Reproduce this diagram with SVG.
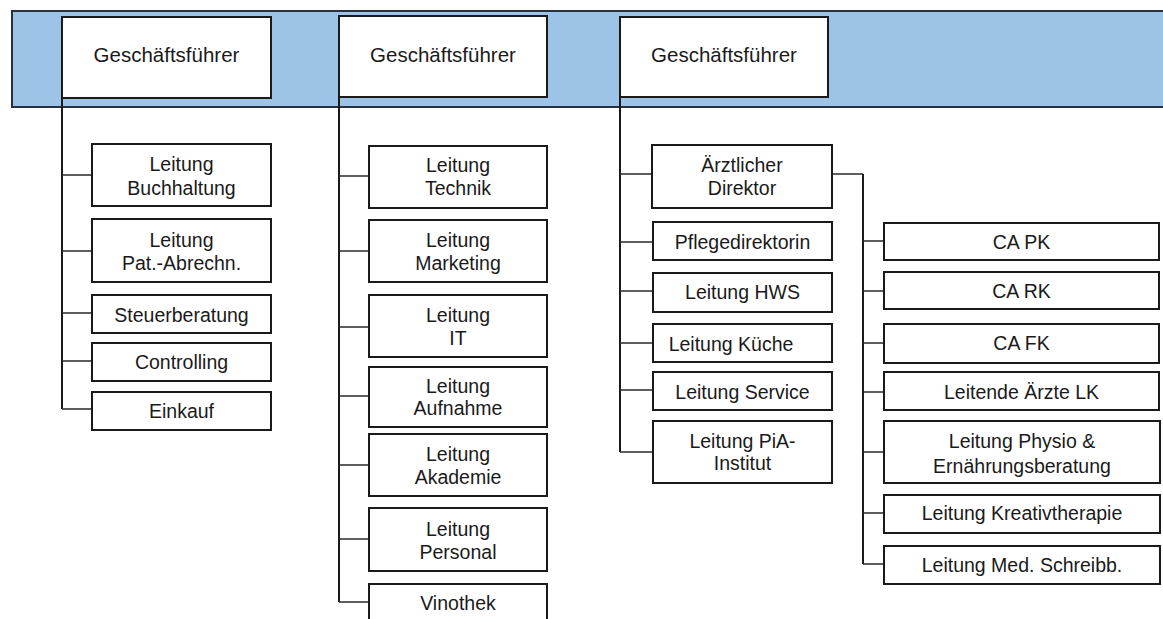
<svg xmlns="http://www.w3.org/2000/svg" width="1163" height="619" viewBox="0 0 1163 619">
<style>
.box{fill:#fff;stroke:#1a1a1a;stroke-width:2}
.t{font-family:"Liberation Sans",Arial,sans-serif;font-size:19.5px;fill:#1a1a1a;text-anchor:middle}
.h{font-size:20.5px}
.c{fill:none;stroke:#2a2a2a;stroke-width:1.5}
.v{fill:none;stroke:#1a1a1a;stroke-width:2}
</style>
<rect width="1163" height="619" fill="#fff"/>
<rect id="band" x="12" y="11" width="1152" height="96" fill="#9dc3e6" stroke="#26323f" stroke-width="2"/>
<g id="connectors">
<path class="v" d="M62 98V409M339 97V602M620 97V452M863 174V564"/>
<path class="c" d="M62 175H92M62 251H92M62 313H92M62 361H92M62 409H92"/>
<path class="c" d="M339 176H369M339 251H369M339 327H369M339 396H369M339 465H369M339 539H369M339 602H369"/>
<path class="c" d="M620 174H652M620 242H652M620 291H652M620 343H652M620 390H652M620 452H652M832 174H863"/>
<path class="c" d="M863 241H884M863 291H884M863 343H884M863 392H884M863 452H884M863 513H884M863 564H884"/>
</g>
<g id="gf1"><rect class="box" x="62" y="17" width="209" height="81"/><text class="t h" x="166.5" y="61.5">Geschäftsführer</text></g>
<g id="gf2"><rect class="box" x="339" y="16" width="208" height="81"/><text class="t h" x="443" y="61.5">Geschäftsführer</text></g>
<g id="gf3"><rect class="box" x="620" y="17" width="208" height="80"/><text class="t h" x="724" y="61.5">Geschäftsführer</text></g>

<g id="buchhaltung"><rect class="box" x="92" y="144" width="179" height="62"/><text class="t" x="181.5" y="170.5">Leitung</text><text class="t" x="181.5" y="194.5">Buchhaltung</text></g>
<g id="patabrechn"><rect class="box" x="92" y="219" width="179" height="63"/><text class="t" x="181.5" y="246.5">Leitung</text><text class="t" x="181.5" y="269.5">Pat.-Abrechn.</text></g>
<g id="steuerberatung"><rect class="box" x="92" y="295" width="179" height="38"/><text class="t" x="181.5" y="322">Steuerberatung</text></g>
<g id="controlling"><rect class="box" x="92" y="343" width="179" height="38"/><text class="t" x="181.5" y="369">Controlling</text></g>
<g id="einkauf"><rect class="box" x="92" y="392" width="179" height="38"/><text class="t" x="181.5" y="417.5">Einkauf</text></g>

<g id="technik"><rect class="box" x="369" y="146" width="178" height="62"/><text class="t" x="458" y="171.5">Leitung</text><text class="t" x="458" y="195">Technik</text></g>
<g id="marketing"><rect class="box" x="369" y="220" width="178" height="62"/><text class="t" x="458" y="246.5">Leitung</text><text class="t" x="458" y="269.5">Marketing</text></g>
<g id="it"><rect class="box" x="369" y="295" width="178" height="62"/><text class="t" x="458" y="321.5">Leitung</text><text class="t" x="458" y="345">IT</text></g>
<g id="aufnahme"><rect class="box" x="369" y="367" width="178" height="60"/><text class="t" x="458" y="392.5">Leitung</text><text class="t" x="458" y="415">Aufnahme</text></g>
<g id="akademie"><rect class="box" x="369" y="434" width="178" height="62"/><text class="t" x="458" y="460.5">Leitung</text><text class="t" x="458" y="484">Akademie</text></g>
<g id="personal"><rect class="box" x="369" y="508" width="178" height="63"/><text class="t" x="458" y="536">Leitung</text><text class="t" x="458" y="558.5">Personal</text></g>
<g id="vinothek"><rect class="box" x="369" y="584" width="178" height="50"/><text class="t" x="458" y="610">Vinothek</text></g>

<g id="aerztlicher"><rect class="box" x="652" y="145" width="180" height="63"/><text class="t" x="742" y="171.5">Ärztlicher</text><text class="t" x="742" y="195">Direktor</text></g>
<g id="pflege"><rect class="box" x="653" y="222" width="179" height="38"/><text class="t" x="742.5" y="248.5">Pflegedirektorin</text></g>
<g id="hws"><rect class="box" x="653" y="273" width="179" height="39"/><text class="t" x="742.5" y="298.5">Leitung HWS</text></g>
<g id="kueche"><rect class="box" x="653" y="324" width="179" height="38"/><text class="t" x="731" y="350.5">Leitung Küche</text></g>
<g id="service"><rect class="box" x="653" y="372" width="179" height="38"/><text class="t" x="742.5" y="398.5">Leitung Service</text></g>
<g id="pia"><rect class="box" x="653" y="421" width="179" height="62"/><text class="t" x="742.5" y="448">Leitung PiA-</text><text class="t" x="742.5" y="470">Institut</text></g>

<g id="capk"><rect class="box" x="884" y="223" width="275" height="37"/><text class="t" x="1021.5" y="249">CA PK</text></g>
<g id="cark"><rect class="box" x="884" y="272" width="275" height="37"/><text class="t" x="1021.5" y="297.5">CA RK</text></g>
<g id="cafk"><rect class="box" x="884" y="324" width="275" height="39"/><text class="t" x="1021.5" y="350">CA FK</text></g>
<g id="leitendelk"><rect class="box" x="884" y="372" width="275" height="38"/><text class="t" x="1021.5" y="398.5">Leitende Ärzte LK</text></g>
<g id="physio"><rect class="box" x="884" y="421" width="276" height="62"/><text class="t" x="1022" y="447.5">Leitung Physio &amp;</text><text class="t" x="1022" y="472.5">Ernährungsberatung</text></g>
<g id="kreativ"><rect class="box" x="884" y="495" width="276" height="38"/><text class="t" x="1022" y="520">Leitung Kreativtherapie</text></g>
<g id="schreibb"><rect class="box" x="884" y="546" width="276" height="38"/><text class="t" x="1022" y="571.5">Leitung Med. Schreibb.</text></g>
</svg>
